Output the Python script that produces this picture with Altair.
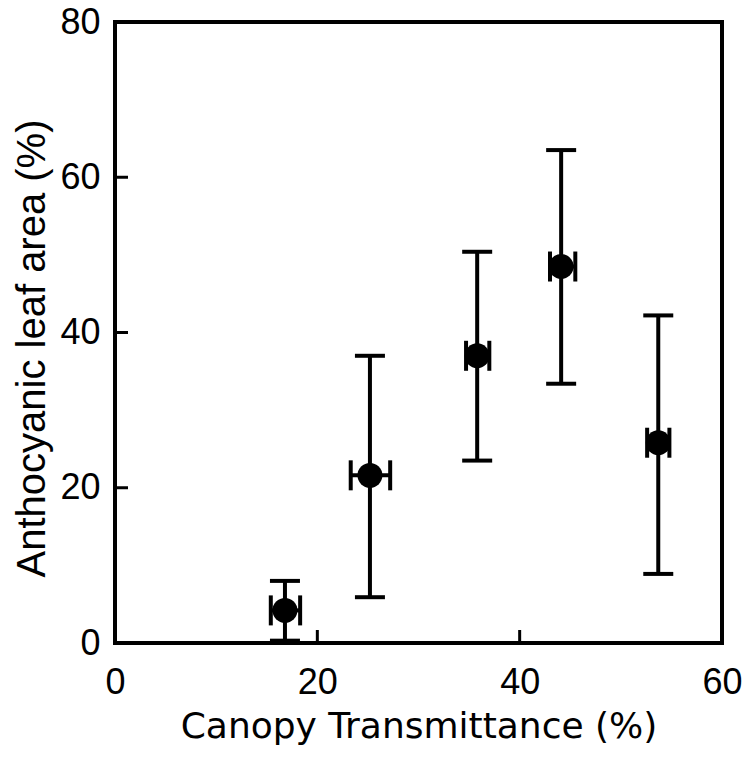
import altair as alt
import pandas as pd

# Data
x_mean = [16.8, 25.2, 35.8, 44.1, 53.7]
y_mean = [4.2, 21.6, 37.0, 48.5, 25.8]
y_low = [0.3, 5.9, 23.5, 33.4, 8.9]
y_high = [8.0, 37.0, 50.4, 63.5, 42.2]
x_low = [15.4, 23.3, 34.7, 43.0, 52.6]
x_high = [18.3, 27.2, 37.0, 45.5, 54.8]

x_ticks = [20, 40]
y_ticks = [20, 40, 60]

W, H = 607, 621

df = pd.DataFrame({"x": x_mean, "y": y_mean, "ylo": y_low, "yhi": y_high,
                   "xlo": x_low, "xhi": x_high})

xs = alt.Scale(domain=[0, 60], nice=False, zero=False)
ys = alt.Scale(domain=[0, 80], nice=False, zero=False)

xaxis = alt.Axis(title="Canopy Transmittance (%)", values=[0, 20, 40, 60],
                 ticks=False, domain=False, grid=False, labelPadding=22,
                 labelFlush=False, labelOverlap=False,
                 labelFontSize=36, labelFont="Liberation Sans", labelColor="black",
                 titleFont="DejaVu Sans", titleFontSize=36, titleFontWeight="normal",
                 titleColor="black", titlePadding=9)
yaxis = alt.Axis(title="Anthocyanic leaf area (%)", values=[0, 20, 40, 60, 80],
                 ticks=False, domain=False, grid=False, labelPadding=15,
                 labelFlush=False, labelOverlap=False,
                 labelFontSize=36, labelFont="Liberation Sans", labelColor="black",
                 titleFont="Liberation Sans", titleFontSize=40, titleFontWeight="normal",
                 titleColor="black", titlePadding=7, titleY=326)

base = alt.Chart(df)

yerr = base.mark_rule(color="black", strokeWidth=4).encode(
    x=alt.X("x:Q", scale=xs, axis=xaxis),
    y=alt.Y("ylo:Q", scale=ys, axis=yaxis),
    y2="yhi:Q",
)
xerr = base.mark_rule(color="black", strokeWidth=4).encode(
    x="xlo:Q", x2="xhi:Q", y="y:Q"
)
tick_kw = dict(color="black", thickness=4, size=30, opacity=1)
ycap_lo = base.mark_tick(orient="horizontal", **tick_kw).encode(x="x:Q", y="ylo:Q")
ycap_hi = base.mark_tick(orient="horizontal", **tick_kw).encode(x="x:Q", y="yhi:Q")
xcap_lo = base.mark_tick(orient="vertical", **tick_kw).encode(x="xlo:Q", y="y:Q")
xcap_hi = base.mark_tick(orient="vertical", **tick_kw).encode(x="xhi:Q", y="y:Q")
pts = base.mark_circle(color="black", opacity=1, size=620).encode(x="x:Q", y="y:Q")

xt = alt.Chart(pd.DataFrame({"t": x_ticks})).mark_rule(color="black", strokeWidth=3).encode(
    x="t:Q", y=alt.value(H), y2=alt.value(H - 13))
yt = alt.Chart(pd.DataFrame({"t": y_ticks})).mark_rule(color="black", strokeWidth=3).encode(
    y="t:Q", x=alt.value(0), x2=alt.value(13))

chart = alt.layer(xt, yt, yerr, xerr, ycap_lo, ycap_hi, xcap_lo, xcap_hi, pts).properties(
    width=W, height=H,
    autosize=alt.AutoSizeParams(type="none"),
    padding={"left": 107, "top": 14, "right": 20, "bottom": 102},
).configure(background="white").configure_view(stroke="black", strokeWidth=4)

chart.save("out.html", embed_options={"renderer": "svg", "actions": False})
